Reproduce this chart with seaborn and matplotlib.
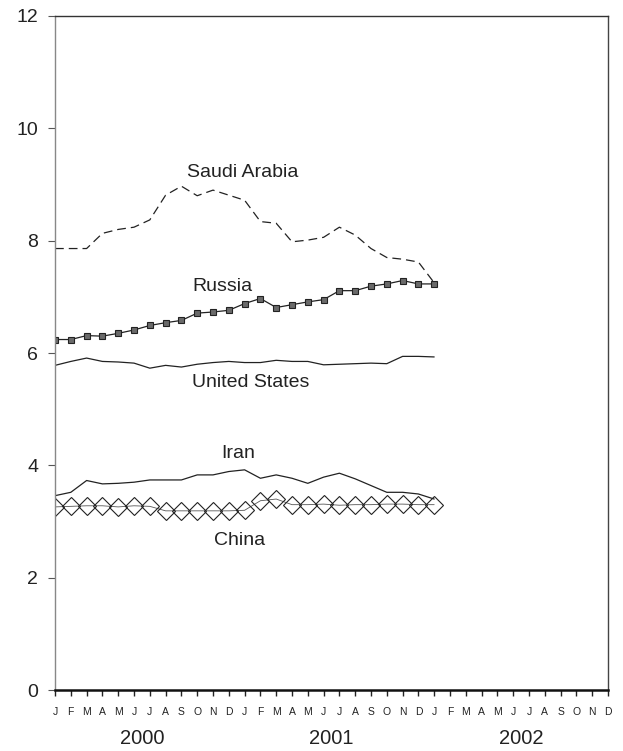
import pandas as pd
import matplotlib
matplotlib.use("Agg")
import matplotlib.pyplot as plt
import matplotlib.transforms as mtransforms
import seaborn as sns

# 월별 값 (2000년 1월 ~ 2002년 1월)
months = list(range(25))
saudi = [7.86, 7.86, 7.86, 8.13, 8.20, 8.24, 8.37, 8.81, 8.97, 8.80, 8.90, 8.81,
         8.72, 8.34, 8.31, 7.98, 8.01, 8.06, 8.24, 8.10, 7.86, 7.70, 7.67, 7.62, 7.25]
russia = [6.24, 6.24, 6.31, 6.30, 6.35, 6.41, 6.49, 6.54, 6.58, 6.71, 6.73, 6.76,
          6.88, 6.97, 6.81, 6.86, 6.91, 6.95, 7.11, 7.11, 7.19, 7.23, 7.29, 7.23, 7.23]
usa = [5.78, 5.85, 5.91, 5.85, 5.84, 5.82, 5.73, 5.78, 5.75, 5.80, 5.83, 5.85,
       5.83, 5.83, 5.87, 5.85, 5.85, 5.79, 5.80, 5.81, 5.82, 5.81, 5.94, 5.94, 5.93]
iran = [3.46, 3.52, 3.73, 3.67, 3.68, 3.70, 3.74, 3.74, 3.74, 3.83, 3.83, 3.89,
        3.92, 3.77, 3.83, 3.77, 3.68, 3.79, 3.86, 3.76, 3.64, 3.52, 3.52, 3.49, 3.40]
china = [3.26, 3.27, 3.28, 3.28, 3.26, 3.28, 3.27, 3.19, 3.19, 3.19, 3.19, 3.19,
         3.20, 3.37, 3.40, 3.30, 3.30, 3.31, 3.29, 3.30, 3.30, 3.31, 3.31, 3.30, 3.30]

month_labels = list("JFMAMJJASOND") * 3
years = ["2000", "2001", "2002"]

# 라벨 위치 (x: 월 index, y: 값)
labels = ["Saudi Arabia", "Russia", "United States", "Iran", "China"]
label_x = [11.9, 10.6, 12.4, 11.6, 11.7]
label_y = [9.22, 7.18, 5.48, 4.21, 2.66]

df = pd.DataFrame({"month": months, "saudi": saudi, "russia": russia,
                   "usa": usa, "iran": iran, "china": china})

sns.set_style("white")
plt.rcParams["font.family"] = ["Liberation Sans", "DejaVu Sans"]

fig = plt.figure(figsize=(6.23, 7.51), dpi=100)
ax = fig.add_axes([0.0883, 0.0812, 0.8876, 0.8975])

line_c = "#222222"
sns.lineplot(data=df, x="month", y="saudi", ax=ax, color=line_c, linewidth=0.9,
             dashes=False, linestyle=(0, (7, 4)))
sns.lineplot(data=df, x="month", y="russia", ax=ax, color=line_c, linewidth=0.9,
             marker="s", markersize=4.0, markerfacecolor="#6a6a6a",
             markeredgecolor="#222222", markeredgewidth=0.8)
sns.lineplot(data=df, x="month", y="usa", ax=ax, color=line_c, linewidth=0.9)
sns.lineplot(data=df, x="month", y="iran", ax=ax, color=line_c, linewidth=0.9)
sns.lineplot(data=df, x="month", y="china", ax=ax, color="#555555", linewidth=0.6,
             marker="D", markersize=8.8, markerfacecolor="none",
             markeredgecolor="#222222", markeredgewidth=0.8)

for name, lx, ly in zip(labels, label_x, label_y):
    ax.text(lx, ly, name, ha="center", va="center", fontsize=14, color="#222222")

ax.set_xlim(0, 35)
ax.set_ylim(0, 12)
ax.set_xticks(range(36))
ax.set_xticklabels(month_labels, fontsize=7.5, color="#222222")
ax.set_yticks([0, 2, 4, 6, 8, 10, 12])
ax.set_yticklabels(["0", "2", "4", "6", "8", "10", "12"], fontsize=14, color="#222222")
ax.tick_params(axis="x", direction="out", length=4.5, width=1.0, color="#222222", pad=8,
               bottom=True)
ax.tick_params(axis="y", direction="out", length=5, width=0.8, color="#555555", pad=7,
               left=True)
ax.set_xlabel("")
ax.set_ylabel("")

trans = mtransforms.blended_transform_factory(ax.transData, ax.transAxes)
for i, yr in enumerate(years):
    ax.text(i * 12 + 5.5, -0.072, yr, transform=trans, ha="center", va="center",
            fontsize=14.5, color="#222222")

for side in ["top", "right", "bottom", "left"]:
    ax.spines[side].set_visible(True)
ax.spines["left"].set_color("#888888")
ax.spines["left"].set_linewidth(1.0)
ax.spines["bottom"].set_color("#111111")
ax.spines["bottom"].set_linewidth(1.8)
ax.spines["top"].set_color("#333333")
ax.spines["top"].set_linewidth(1.0)
ax.spines["right"].set_color("#444444")
ax.spines["right"].set_linewidth(1.0)

plt.savefig("out.png", dpi=100)
